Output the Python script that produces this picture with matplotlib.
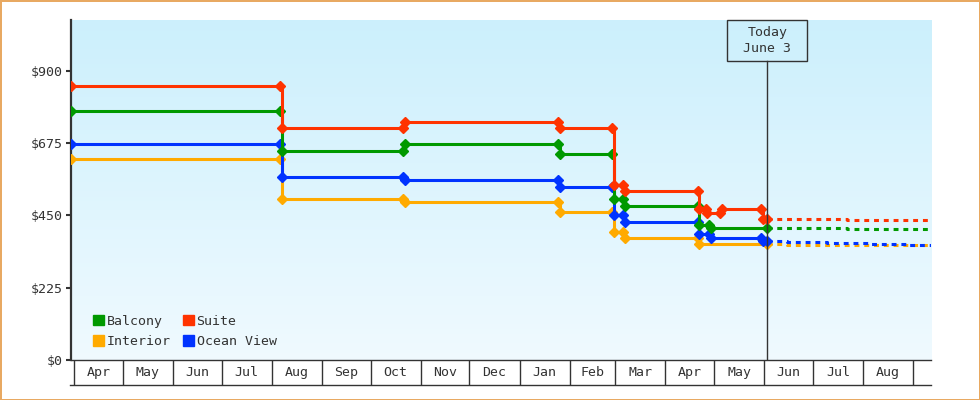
import numpy as np
import pandas as pd
import matplotlib
matplotlib.use("Agg")
import matplotlib.pyplot as plt
import matplotlib.dates as mdates
from matplotlib.patches import Patch, Rectangle

plt.rcParams['font.family'] = ['DejaVu Sans Mono']

# price history (solid part, up to today)
suite_dates = ["2022-03-30", "2022-08-06", "2022-08-07", "2022-10-21", "2022-10-22",
               "2023-01-25", "2023-01-26", "2023-02-27", "2023-02-28", "2023-03-06",
               "2023-03-07", "2023-04-21", "2023-04-22", "2023-04-26", "2023-04-27",
               "2023-05-05", "2023-05-06", "2023-05-30", "2023-05-31", "2023-06-03"]
suite_prices = [853, 853, 720, 720, 740, 740, 720, 720, 544, 544,
                526, 526, 469, 469, 458, 458, 469, 469, 437, 437]

balcony_dates = ["2022-03-30", "2022-08-06", "2022-08-07", "2022-10-21", "2022-10-22",
                 "2023-01-25", "2023-01-26", "2023-02-27", "2023-02-28", "2023-03-06",
                 "2023-03-07", "2023-04-21", "2023-04-22", "2023-04-28", "2023-04-29",
                 "2023-06-03"]
balcony_prices = [773, 773, 649, 649, 671, 671, 640, 640, 499, 499,
                  480, 480, 420, 420, 409, 409]

ocean_dates = ["2022-03-30", "2022-08-06", "2022-08-07", "2022-10-21", "2022-10-22",
               "2023-01-25", "2023-01-26", "2023-02-27", "2023-02-28", "2023-03-06",
               "2023-03-07", "2023-04-21", "2023-04-22", "2023-04-28", "2023-04-29",
               "2023-05-30", "2023-05-31", "2023-06-03"]
ocean_prices = [672, 672, 568, 568, 560, 560, 539, 539, 451, 451,
                428, 428, 391, 391, 378, 378, 369, 369]

interior_dates = ["2022-03-30", "2022-08-06", "2022-08-07", "2022-10-21", "2022-10-22",
                  "2023-01-25", "2023-01-26", "2023-02-27", "2023-02-28", "2023-03-06",
                  "2023-03-07", "2023-04-21", "2023-04-22", "2023-06-03"]
interior_prices = [624, 624, 500, 500, 490, 490, 459, 459, 399, 399,
                   378, 378, 361, 361]

# forecast (dotted part, after today)
fc_dates_a = ["2023-06-03", "2023-07-22", "2023-09-12"]
suite_fc = [437, 434, 434]
balcony_fc = [409, 406, 406]
fc_dates_b = ["2023-06-03", "2023-06-15", "2023-07-10", "2023-08-04", "2023-08-29", "2023-09-12"]
ocean_fc = [369, 366, 364, 361, 358, 358]
interior_fc = [360, 359, 358, 357, 356, 356]

month_labels = ["Apr", "May", "Jun", "Jul", "Aug", "Sep", "Oct", "Nov", "Dec",
                "Jan", "Feb", "Mar", "Apr", "May", "Jun", "Jul", "Aug"]
y_ticks = [0, 225, 450, 675, 900]
y_tick_labels = ["$0", "$225", "$450", "$675", "$900"]
today_str = "2023-06-03"
today_label = "Today\nJune 3"

x_start, x_end = "2022-03-30", "2023-09-12"
y_max = 1057

col = {"Balcony": "#009900", "Suite": "#ff3300", "Interior": "#ffaa00", "Ocean View": "#0033ff"}
ink = "#333333"


def d(lst):
    return mdates.date2num(pd.to_datetime(lst))


fig = plt.figure(figsize=(9.8, 4), dpi=100, facecolor="white",
                 edgecolor="#e8a962", linewidth=2)
ax = fig.add_axes([71 / 980, 40 / 400, 860 / 980, 340 / 400])

# gradient background
top = np.array([0.80, 0.94, 0.99])
bot = np.array([0.94, 0.98, 1.00])
g = np.linspace(0, 1, 256)[:, None, None]
img = top + (bot - top) * g
ax.imshow(img, extent=[0, 1, 0, 1], transform=ax.transAxes, aspect="auto",
          zorder=0, interpolation="bilinear")

series = [
    ("Interior", interior_dates, interior_prices, fc_dates_b, interior_fc),
    ("Ocean View", ocean_dates, ocean_prices, fc_dates_b, ocean_fc),
    ("Balcony", balcony_dates, balcony_prices, fc_dates_a, balcony_fc),
    ("Suite", suite_dates, suite_prices, fc_dates_a, suite_fc),
]
for name, ds, ps, fds, fps in series:
    c = col[name]
    ax.plot(d(fds), fps, drawstyle="steps-post", color=c, lw=2.2,
            linestyle=(0, (1.6, 1.6)), dash_capstyle="butt", zorder=3)
    ax.plot(d(ds), ps, drawstyle="steps-post", color=c, lw=2.2,
            marker="D", ms=4.8, mec=c, mfc=c, zorder=4)

ax.set_xlim(d([x_start])[0], d([x_end])[0])
ax.set_ylim(0, y_max)

# axes styling
for s in ["top", "right"]:
    ax.spines[s].set_visible(False)
ax.spines["left"].set_color(ink)
ax.spines["left"].set_linewidth(1.6)
ax.spines["bottom"].set_color(ink)
ax.spines["bottom"].set_linewidth(1)

ax.set_yticks(y_ticks)
ax.set_yticklabels(y_tick_labels)
ax.tick_params(axis="y", length=3.6, width=1.5, color=ink, pad=2,
               labelsize=9.5, labelcolor=ink)

month_starts = d(pd.date_range("2022-04-01", "2023-09-01", freq="MS"))
centers = (month_starts[:-1] + month_starts[1:]) / 2
ax.set_xticks(month_starts)
ax.set_xticklabels([""] * len(month_starts))
ax.set_xticks(centers, minor=True)
ax.set_xticklabels(month_labels, minor=True)
ax.tick_params(axis="x", which="major", length=18, width=1, color=ink, direction="out")
ax.tick_params(axis="x", which="minor", length=0, pad=4.5, labelsize=9.5, labelcolor=ink)
ax.plot([-1 / 860, 1], [-25 / 340, -25 / 340], transform=ax.transAxes,
        color=ink, lw=1, clip_on=False)

# today marker
today = d([today_str])[0]
span = d([x_end])[0] - d([x_start])[0]
box_w = span * 80 / 860
box_h = y_max * 40.7 / 340
ax.add_patch(Rectangle((today - box_w / 2, y_max - box_h), box_w, box_h,
                       fill=False, ec=ink, lw=1, zorder=5, clip_on=False))
ax.plot([today, today], [0, y_max - box_h], color=ink, lw=1, zorder=5)
ax.text(today, y_max - box_h / 2, today_label, ha="center", va="center",
        fontsize=9.5, color=ink, linespacing=1.3, zorder=6)

# legend
handles = [Patch(color=col[n], label=n) for n in ["Balcony", "Interior", "Suite", "Ocean View"]]
ax.legend(handles=handles, ncol=2, loc="lower left",
          bbox_to_anchor=(22 / 860, 12 / 340), frameon=False, borderpad=0,
          borderaxespad=0, handlelength=0.85, handleheight=0.85,
          handletextpad=0.2, columnspacing=0.9, labelspacing=0.55,
          prop={"size": 9.5}, labelcolor=ink)

fig.savefig("out.png", dpi=100)
